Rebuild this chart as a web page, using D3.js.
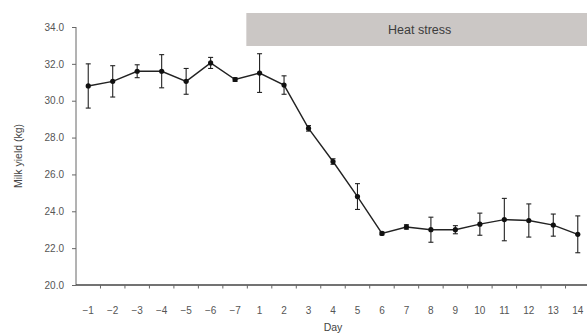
<!DOCTYPE html>
<html>
<head>
<meta charset="utf-8">
<script src="https://cdn.jsdelivr.net/npm/d3@7"></script>
<style>
  body { margin: 0; background: #fff; }
  text { font-family: "Liberation Sans", Arial, sans-serif; }
</style>
</head>
<body>
<svg id="chart"></svg>
<script>
const width = 587;
const height = 333;

// Days before (negative) and during heat stress
const days = ["−1", "−2", "−3", "−4", "−5", "−6", "−7", "1", "2", "3", "4", "5", "6", "7", "8", "9", "10", "11", "12", "13", "14"];
// Mean milk yield (kg)
const yieldMean = [30.8, 31.05, 31.6, 31.6, 31.05, 32.05, 31.15, 31.5, 30.85, 28.5, 26.7, 24.8, 22.8, 23.15, 23.0, 23.0, 23.3, 23.55, 23.5, 23.25, 22.75];
// Error (± kg)
const yieldErr = [1.2, 0.85, 0.35, 0.9, 0.7, 0.3, 0.1, 1.05, 0.5, 0.15, 0.15, 0.7, 0.08, 0.12, 0.68, 0.22, 0.6, 1.15, 0.9, 0.6, 1.0];
const yTicks = [20, 22, 24, 26, 28, 30, 32, 34];

const margin = { top: 27, right: -3, bottom: 48, left: 76 };

const svg = d3.select("#chart").attr("width", width).attr("height", height);

const x = d3.scaleBand()
  .domain(days)
  .range([margin.left, width - margin.right]);

const y = d3.scaleLinear()
  .domain([20, 34])
  .range([height - margin.bottom, margin.top]);

// Heat stress band
const hsX = x("1") - 1;
svg.append("rect")
  .attr("x", hsX)
  .attr("y", 13)
  .attr("width", width - hsX)
  .attr("height", 33)
  .attr("fill", "#cbc7c5");

svg.append("text")
  .attr("x", (hsX + width) / 2 + 3)
  .attr("y", 34)
  .attr("text-anchor", "middle")
  .attr("font-size", 12.5)
  .attr("fill", "#3c3c3c")
  .text("Heat stress");

// Y axis
const yAxis = svg.append("g")
  .attr("transform", `translate(${margin.left},0)`)
  .call(d3.axisLeft(y).tickValues(yTicks).tickSize(4).tickPadding(8).tickFormat(d3.format(".1f")));
yAxis.selectAll("text").attr("font-size", 10).attr("fill", "#555").attr("font-family", "Liberation Sans, Arial, sans-serif");
yAxis.selectAll("line, path").attr("stroke", "#666");
yAxis.select(".domain").attr("d", `M0,${y(20)}V${y(34)}`);

// X axis: ticks between categories
const xAxis = svg.append("g")
  .attr("transform", `translate(0,${y(20)})`);
xAxis.append("line")
  .attr("x1", margin.left)
  .attr("x2", width)
  .attr("stroke", "#444")
  .attr("stroke-width", 1.5);
xAxis.selectAll(".tick")
  .data(days.slice(0, -1))
  .join("line")
  .attr("x1", d => x(d) + x.bandwidth())
  .attr("x2", d => x(d) + x.bandwidth())
  .attr("y1", 0)
  .attr("y2", 3.5)
  .attr("stroke", "#666");
xAxis.selectAll("text")
  .data(days)
  .join("text")
  .attr("x", d => x(d) + x.bandwidth() / 2)
  .attr("y", 29)
  .attr("text-anchor", "middle")
  .attr("font-size", 10)
  .attr("fill", "#555")
  .text(d => d);

// Axis titles
svg.append("text")
  .attr("transform", `translate(22,${(y(20) + y(34)) / 2}) rotate(-90)`)
  .attr("text-anchor", "middle")
  .attr("font-size", 10.5)
  .attr("fill", "#444")
  .text("Milk yield (kg)");

svg.append("text")
  .attr("x", 333)
  .attr("y", 331)
  .attr("text-anchor", "middle")
  .attr("font-size", 10.5)
  .attr("fill", "#444")
  .text("Day");

const cx = d => x(d) + x.bandwidth() / 2;

// Error bars
const eb = svg.append("g").attr("stroke", "#222").attr("stroke-width", 1.1);
days.forEach((d, i) => {
  const top = y(yieldMean[i] + yieldErr[i]);
  const bot = y(yieldMean[i] - yieldErr[i]);
  eb.append("line").attr("x1", cx(d)).attr("x2", cx(d)).attr("y1", top).attr("y2", bot);
  eb.append("line").attr("x1", cx(d) - 2.5).attr("x2", cx(d) + 2.5).attr("y1", top).attr("y2", top);
  eb.append("line").attr("x1", cx(d) - 2.5).attr("x2", cx(d) + 2.5).attr("y1", bot).attr("y2", bot);
});

// Line
const line = d3.line()
  .x((v, i) => cx(days[i]))
  .y(v => y(v));

svg.append("path")
  .datum(yieldMean)
  .attr("fill", "none")
  .attr("stroke", "#222")
  .attr("stroke-width", 1.4)
  .attr("d", line);

// Markers
svg.append("g")
  .selectAll("circle")
  .data(yieldMean)
  .join("circle")
  .attr("cx", (v, i) => cx(days[i]))
  .attr("cy", v => y(v))
  .attr("r", 2.6)
  .attr("fill", "#111");
</script>
</body>
</html>
